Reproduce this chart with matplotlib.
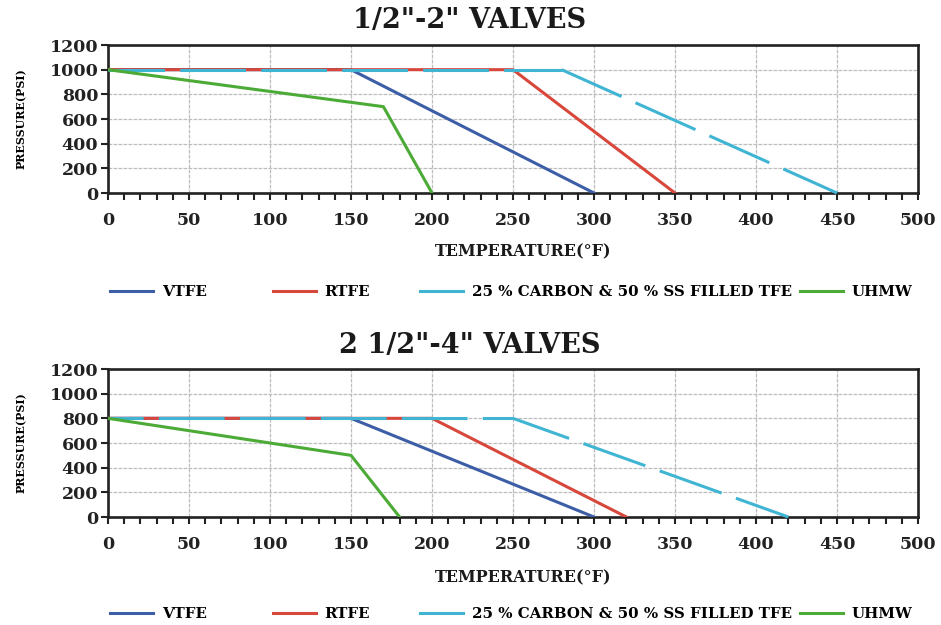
import matplotlib
matplotlib.use("Agg")
import matplotlib.pyplot as plt
from matplotlib.lines import Line2D

plt.rcParams['font.family'] = ['DejaVu Serif']
plt.rcParams['font.weight'] = 'bold'

# top chart: 1/2"-2" valves
top_vtfe_t = [0, 150, 300]
top_vtfe_p = [1000, 1000, 0]
top_rtfe_t = [0, 250, 350]
top_rtfe_p = [1000, 1000, 0]
top_carbon_t = [0, 280, 450]
top_carbon_p = [1000, 1000, 0]
top_uhmw_t = [0, 170, 200]
top_uhmw_p = [1000, 700, 0]

# bottom chart: 2 1/2"-4" valves
bot_vtfe_t = [0, 150, 300]
bot_vtfe_p = [800, 800, 0]
bot_rtfe_t = [0, 200, 320]
bot_rtfe_p = [800, 800, 0]
bot_carbon_t = [0, 250, 420]
bot_carbon_p = [800, 800, 0]
bot_uhmw_t = [0, 150, 180]
bot_uhmw_p = [800, 500, 0]

titles = ['1/2"-2" VALVES', '2 1/2"-4" VALVES']
names = ['VTFE', 'RTFE', '25 % CARBON & 50 % SS FILLED TFE', 'UHMW']
colors = ['#3c5ea6', '#d8473b', '#3fb5d3', '#4bab36']

fig = plt.figure(figsize=(9.41, 6.25), dpi=100)

W, H = 941, 625
boxes = [(108, 45, 918, 193), (108, 369, 918, 517)]
data = [
    [(top_vtfe_t, top_vtfe_p), (top_rtfe_t, top_rtfe_p), (top_carbon_t, top_carbon_p), (top_uhmw_t, top_uhmw_p)],
    [(bot_vtfe_t, bot_vtfe_p), (bot_rtfe_t, bot_rtfe_p), (bot_carbon_t, bot_carbon_p), (bot_uhmw_t, bot_uhmw_p)],
]
title_y = [21, 345]
xlabel_y = [252, 578]
legend_y = [292, 614]
legend_x = [110, 273, 420, 800]
# dash offsets for the cyan line: flat part, sloped part
flat_offset = [3.0, 10.0]
slope_offset = [0.0, 2.0]
dash = (21.5, 5)

for k in range(2):
    x0, y0, x1, y1 = boxes[k]
    ax = fig.add_axes([x0 / W, 1 - y1 / H, (x1 - x0) / W, (y1 - y0) / H])
    ax.set_xlim(0, 500)
    ax.set_ylim(0, 1200)
    ax.set_xticks(range(0, 501, 50))
    ax.set_xticks(range(0, 501, 10), minor=True)
    ax.set_yticks(range(0, 1201, 200))
    ax.grid(True, color='#bdbdbd', linewidth=0.9, linestyle=(0, (3, 1)))
    ax.set_axisbelow(True)
    for s in ax.spines.values():
        s.set_linewidth(1.9)
        s.set_color('#222222')
    ax.tick_params(axis='both', which='major', direction='out', length=5, width=1.5,
                   labelsize=12.5, colors='#222222')
    ax.tick_params(axis='x', which='minor', direction='out', length=5, width=1.5, color='#222222')
    ax.tick_params(axis='x', which='major', pad=9)
    ax.tick_params(axis='y', which='major', pad=2)
    for lab in ax.get_xticklabels() + ax.get_yticklabels():
        lab.set_fontweight('bold')

    (vt, vp), (rt, rp), (ct, cp), (ut, up) = data[k]
    ax.plot(vt, vp, color=colors[0], linewidth=2.2, zorder=3)
    ax.plot(rt, rp, color=colors[1], linewidth=2.2, zorder=4)
    ax.plot(ct[:2], cp[:2], color=colors[2], linewidth=2.2, zorder=5,
            linestyle=(flat_offset[k], dash), clip_on=False)
    ax.plot(ct[1:], cp[1:], color=colors[2], linewidth=2.2, zorder=5,
            linestyle=(slope_offset[k], dash), clip_on=False)
    ax.plot(ut, up, color=colors[3], linewidth=2.2, zorder=6)

    ax.set_ylabel('PRESSURE(PSI)', fontsize=8, fontweight='bold', labelpad=16)
    fig.text(470 / W, 1 - title_y[k] / H, titles[k], ha='center', va='center',
             fontsize=19.5, fontweight='bold', color='#1a1a1a')
    fig.text(523 / W, 1 - xlabel_y[k] / H, 'TEMPERATURE(°F)', ha='center', va='center',
             fontsize=11.5, fontweight='bold', color='#1a1a1a')

    for i in range(4):
        h = Line2D([], [], color=colors[i], linewidth=2.2)
        leg = fig.legend([h], [names[i]], loc='center left', frameon=False,
                         bbox_to_anchor=(legend_x[i] / W, 1 - legend_y[k] / H),
                         prop={'size': 10.8, 'weight': 'bold'}, handlelength=2.85,
                         handletextpad=0.6, borderpad=0, borderaxespad=0)

fig.savefig('out.png', dpi=100, facecolor='white')
